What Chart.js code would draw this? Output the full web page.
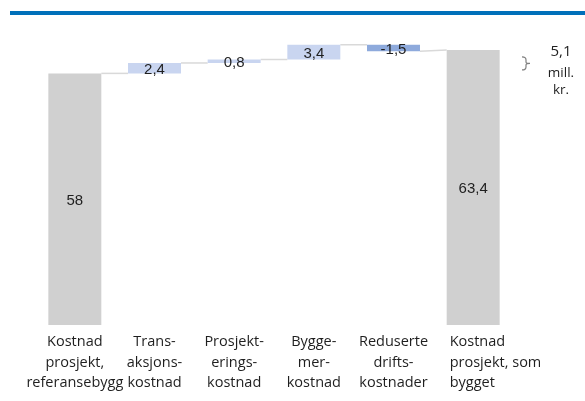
<!DOCTYPE html>
<html lang="no">
<head>
<meta charset="utf-8">
<script src="https://cdn.jsdelivr.net/npm/chart.js@4/dist/chart.umd.min.js"></script>
<style>
  html, body { margin: 0; padding: 0; background: #ffffff; }
  #wrap { position: relative; width: 585px; height: 401px; overflow: hidden; }
  #rule { position: absolute; left: 10px; right: 0; top: 11px; height: 4px; background: #0070ba; }
  #wrap canvas { position: absolute; left: 0; top: 0; }
</style>
</head>
<body>
<div id="wrap">
  <div id="rule"></div>
  <canvas id="chart" width="585" height="401"></canvas>
</div>
<script>
// Kostnadsbro: referansebygg -> prosjekt som bygget (mill. kr.)
const categories = [
  ['Kostnad', 'prosjekt,', 'referansebygg'],
  ['Trans-', 'aksjons-', 'kostnad'],
  ['Prosjekt-', 'erings-', 'kostnad'],
  ['Bygge-', 'mer-', 'kostnad'],
  ['Reduserte', 'drifts-', 'kostnader'],
  ['Kostnad', 'prosjekt, som', 'bygget']
];
const startTotal = 58;
const changes = [2.4, 0.8, 3.4, -1.5];
const endTotal = 63.4;

// Floating ranges for each bar: totals from zero, changes stacked on the running sum
const ranges = [[0, startTotal]];
let running = startTotal;
changes.forEach(v => { ranges.push([running, running + v]); running += v; });
ranges.push([0, endTotal]);
const labelValues = [startTotal, ...changes, endTotal];
const netChange = changes.reduce((a, b) => a + b, 0);

const fmt = v => (Math.round(v * 10) / 10).toString().replace('.', ',');

const colors = labelValues.map((v, i) => {
  if (i === 0 || i === labelValues.length - 1) return '#d0d0d0';
  return v < 0 ? '#8eaadc' : '#c9d5f0';
});

const waterfallDecor = {
  id: 'waterfallDecor',
  beforeDatasetsDraw(chart) {
    const { ctx } = chart;
    const y = chart.scales.y;
    const bars = chart.getDatasetMeta(0).data;
    ctx.save();
    ctx.strokeStyle = '#d9d9d9';
    ctx.lineWidth = 1.5;
    for (let i = 0; i < bars.length - 1; i++) {
      const a = bars[i], b = bars[i + 1];
      const from = ranges[i][1];
      const to = i + 1 === bars.length - 1 ? ranges[i + 1][1] : ranges[i + 1][0];
      ctx.beginPath();
      ctx.moveTo(a.x + a.width / 2, y.getPixelForValue(from));
      ctx.lineTo(b.x - b.width / 2, y.getPixelForValue(to));
      ctx.stroke();
    }
    ctx.restore();
  },
  afterDatasetsDraw(chart) {
    const { ctx, chartArea } = chart;
    const y = chart.scales.y;
    const bars = chart.getDatasetMeta(0).data;
    ctx.save();
    // values inside the bars
    ctx.fillStyle = '#1f1f1f';
    ctx.font = '15px "Liberation Sans", Arial, sans-serif';
    ctx.textAlign = 'center';
    ctx.textBaseline = 'middle';
    bars.forEach((b, i) => {
      ctx.fillText(fmt(labelValues[i]), b.x, (b.y + b.base) / 2 + 1.5);
    });

    // category labels under the bars
    ctx.font = '14.5px "Open Sans", sans-serif';
    ctx.fillStyle = '#1f1f1f';
    const lineH = 20.5;
    bars.forEach((b, i) => {
      const last = i === bars.length - 1;
      ctx.textAlign = last ? 'left' : 'center';
      const x = last ? b.x - b.width / 2 + 3 : b.x;
      categories[i].forEach((line, k) => {
        ctx.fillText(line, x, chartArea.bottom + 17 + k * lineH);
      });
    });

    // brace and net change note on the right
    const yTop = y.getPixelForValue(endTotal);
    const bx = chartArea.right + 9;
    const by0 = yTop + 7, by1 = yTop + 20, bm = (by0 + by1) / 2;
    ctx.strokeStyle = '#7f7f7f';
    ctx.lineWidth = 1.2;
    ctx.beginPath();
    ctx.moveTo(bx, by0);
    ctx.quadraticCurveTo(bx + 4, by0, bx + 4, by0 + 3);
    ctx.lineTo(bx + 4, bm - 1.5);
    ctx.quadraticCurveTo(bx + 4, bm, bx + 8, bm);
    ctx.quadraticCurveTo(bx + 4, bm, bx + 4, bm + 1.5);
    ctx.lineTo(bx + 4, by1 - 3);
    ctx.quadraticCurveTo(bx + 4, by1, bx, by1);
    ctx.stroke();

    ctx.fillStyle = '#1f1f1f';
    ctx.textAlign = 'center';
    const nx = chartArea.right + 48;
    ctx.font = '15px "Open Sans", sans-serif';
    ctx.fillText(fmt(netChange), nx, yTop + 2);
    ctx.font = '13.5px "Open Sans", sans-serif';
    ctx.fillText('mill.', nx, yTop + 23);
    ctx.fillText('kr.', nx, yTop + 40);
    ctx.restore();
  }
};

new Chart(document.getElementById('chart'), {
  type: 'bar',
  data: {
    labels: categories.map(c => c.join(' ')),
    datasets: [{
      data: ranges,
      backgroundColor: colors,
      borderWidth: 0,
      categoryPercentage: 0.665,
      barPercentage: 1
    }]
  },
  options: {
    responsive: false,
    animation: false,
    layout: { padding: { left: 35, right: 72, top: 30, bottom: 76 } },
    plugins: { legend: { display: false }, tooltip: { enabled: false } },
    scales: {
      x: { display: false },
      y: { display: false, min: 0, max: 68 }
    }
  },
  plugins: [waterfallDecor]
});
</script>
</body>
</html>
